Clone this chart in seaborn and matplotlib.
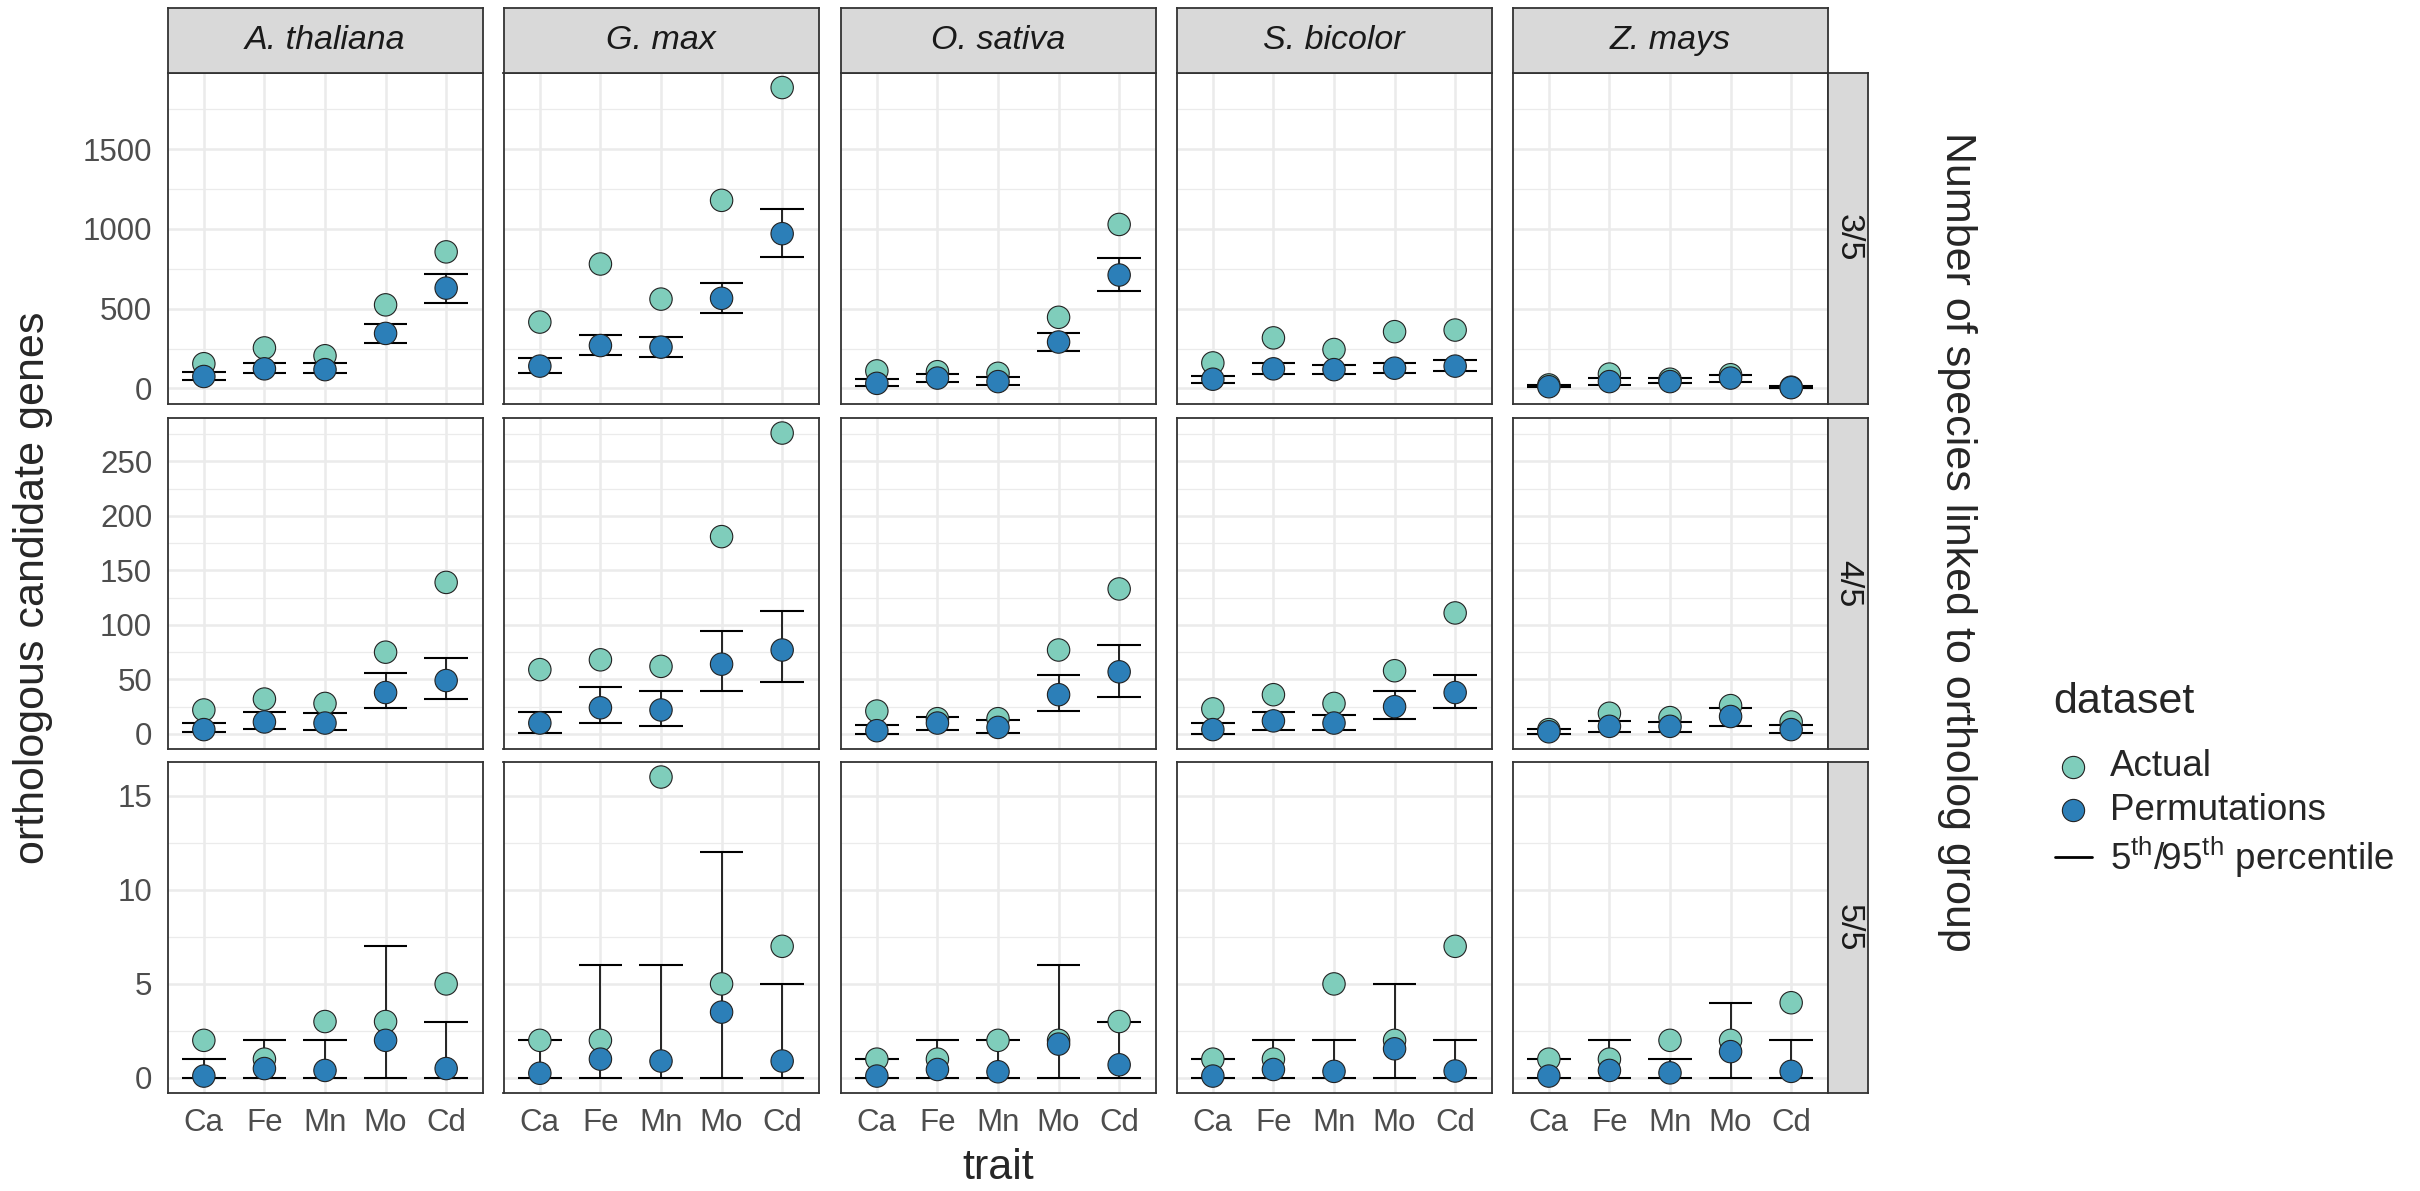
import numpy as np
import pandas as pd
import matplotlib.pyplot as plt
import seaborn as sns
from matplotlib.lines import Line2D

# ---- data ----
species = ["A. thaliana", "G. max", "O. sativa", "S. bicolor", "Z. mays"]
traits = ["Ca", "Fe", "Mn", "Mo", "Cd"]
levels = ["3/5", "4/5", "5/5"]

# rows = species, columns = traits
actual_3 = [[155, 254, 205, 524, 856],
            [416, 780, 560, 1179, 1886],
            [110, 105, 95, 446, 1028],
            [160, 317, 244, 356, 366],
            [22, 90, 58, 86, 8]]
perm_3 = [[75, 123, 118, 345, 629],
          [140, 269, 259, 565, 970],
          [32, 65, 43, 291, 711],
          [58, 123, 118, 127, 140],
          [11, 43, 43, 65, 5]]
lo_3 = [[54, 97, 97, 287, 537],
        [97, 209, 200, 474, 823],
        [15, 43, 22, 237, 610],
        [32, 93, 93, 97, 108],
        [8, 22, 37, 43, 4]]
hi_3 = [[101, 157, 157, 403, 720],
        [188, 338, 323, 664, 1125],
        [58, 93, 69, 349, 817],
        [75, 157, 144, 162, 179],
        [20, 65, 65, 86, 15]]

actual_4 = [[22, 32, 28, 75, 139],
            [59, 68, 62, 181, 276],
            [21, 14, 14, 77, 133],
            [23, 36, 28, 58, 111],
            [4, 19, 15, 26, 11]]
perm_4 = [[4, 11, 10, 38, 49],
          [10, 24, 22, 64, 77],
          [3, 10, 6, 36, 57],
          [4, 12, 10, 25, 38],
          [2, 7, 7, 16, 4]]
lo_4 = [[2, 5, 4, 24, 32],
        [1, 10, 7, 39, 48],
        [0, 4, 1, 21, 34],
        [0, 4, 4, 14, 24],
        [0, 2, 2, 7, 1]]
hi_4 = [[10, 20, 19, 56, 70],
        [20, 43, 39, 94, 113],
        [8, 16, 13, 54, 82],
        [10, 20, 17, 39, 54],
        [5, 12, 11, 24, 8]]

actual_5 = [[2, 1, 3, 3, 5],
            [2, 2, 16, 5, 7],
            [1, 1, 2, 2, 3],
            [1, 1, 5, 2, 7],
            [1, 1, 2, 2, 4]]
perm_5 = [[0.1, 0.5, 0.4, 2.0, 0.5],
          [0.25, 1.0, 0.9, 3.5, 0.9],
          [0.1, 0.45, 0.33, 1.8, 0.7],
          [0.1, 0.45, 0.35, 1.55, 0.37],
          [0.1, 0.4, 0.27, 1.4, 0.35]]
lo_5 = [[0, 0, 0, 0, 0]] * 5
hi_5 = [[1, 2, 2, 7, 3],
        [2, 6, 6, 12, 5],
        [1, 2, 2, 6, 3],
        [1, 2, 2, 5, 2],
        [1, 2, 1, 4, 2]]

actual = {"3/5": actual_3, "4/5": actual_4, "5/5": actual_5}
perm = {"3/5": perm_3, "4/5": perm_4, "5/5": perm_5}
lo = {"3/5": lo_3, "4/5": lo_4, "5/5": lo_5}
hi = {"3/5": hi_3, "4/5": hi_4, "5/5": hi_5}

y_major = {"3/5": [0, 500, 1000, 1500],
           "4/5": [0, 50, 100, 150, 200, 250],
           "5/5": [0, 5, 10, 15]}
y_minor = {"3/5": [250, 750, 1250, 1750],
           "4/5": [25, 75, 125, 175, 225, 275],
           "5/5": [2.5, 7.5, 12.5]}

# long tables
pts_rows, err_rows = [], []
for lev in levels:
    for i, sp in enumerate(species):
        for j, tr in enumerate(traits):
            pts_rows.append((lev, sp, tr, j, "Actual", actual[lev][i][j]))
for lev in levels:
    for i, sp in enumerate(species):
        for j, tr in enumerate(traits):
            pts_rows.append((lev, sp, tr, j, "Permutations", perm[lev][i][j]))
            err_rows.append((lev, sp, tr, j, lo[lev][i][j], hi[lev][i][j]))
points = pd.DataFrame(pts_rows, columns=["level", "species", "trait", "pos", "dataset", "value"])
errs = pd.DataFrame(err_rows, columns=["level", "species", "trait", "pos", "lo", "hi"])

palette = {"Actual": "#7fcdbb", "Permutations": "#2c7fb8"}

# ---- style ----
sns.set_theme(style="white")
plt.rcParams['font.family'] = ['Liberation Sans', 'DejaVu Sans']
plt.rcParams['mathtext.fontset'] = 'custom'
plt.rcParams['mathtext.rm'] = 'Liberation Sans'

W, H = 2420, 1191
fig = plt.figure(figsize=(W / 100, H / 100), dpi=100)
fig.patch.set_facecolor("white")


def box(x0, y0, x1, y1):
    # pixel box (top-left origin) -> figure fraction rect
    return [x0 / W, 1 - y1 / H, (x1 - x0) / W, (y1 - y0) / H]


col_left = [167.5, 503.5, 840.5, 1176.5, 1512.5]
col_w = 315
row_top = [72.5, 418, 762]
row_h = 331
strip_top = 8
strip_right = 1868

tick_fs = 22.5
strip_fs = 24.5
title_fs = 31
legend_fs = 26.5
border = "#333333"

for r, lev in enumerate(levels):
    vals = points[points.level == lev]["value"].tolist() + errs[errs.level == lev]["hi"].tolist()
    vmin, vmax = 0, max(vals)
    pad = (vmax - vmin) * 0.05
    for c, sp in enumerate(species):
        ax = fig.add_axes(box(col_left[c], row_top[r], col_left[c] + col_w, row_top[r] + row_h))
        e = errs[(errs.level == lev) & (errs.species == sp)]
        p = points[(points.level == lev) & (points.species == sp)]

        ax.vlines(e.pos, e.lo, e.hi, color="black", lw=1.2, zorder=2)
        ax.hlines(e.lo, e.pos - 0.36, e.pos + 0.36, color="black", lw=1.5, zorder=2)
        ax.hlines(e.hi, e.pos - 0.36, e.pos + 0.36, color="black", lw=1.5, zorder=2)
        sns.scatterplot(data=p, x="pos", y="value", hue="dataset", palette=palette,
                        hue_order=["Actual", "Permutations"], s=260,
                        edgecolor="#222222", linewidth=0.8, legend=False, ax=ax, zorder=3)

        ax.set_xlim(-0.6, 4.6)
        ax.set_ylim(vmin - pad, vmax + pad)
        ax.set_xticks(range(len(traits)))
        ax.set_xticklabels(traits)
        ax.set_yticks(y_major[lev])
        ax.set_yticks(y_minor[lev], minor=True)
        ax.grid(which="major", color="#ebebeb", lw=1.8)
        ax.grid(which="minor", axis="y", color="#ebebeb", lw=0.9)
        ax.set_axisbelow(True)
        ax.set_xlabel("")
        ax.set_ylabel("")
        for s in ax.spines.values():
            s.set_color(border)
            s.set_linewidth(1.3)
        ax.tick_params(which="minor", length=0)
        ax.tick_params(axis="both", which="major", length=8, width=1.6, color=border,
                       labelsize=tick_fs, labelcolor="#4d4d4d", pad=3)
        if c > 0:
            ax.tick_params(axis="y", left=False, labelleft=False)
        if r < 2:
            ax.tick_params(axis="x", bottom=False, labelbottom=False)

        # top strips
        if r == 0:
            sax = fig.add_axes(box(col_left[c], strip_top, col_left[c] + col_w, row_top[0]))
            sax.set_facecolor("#d9d9d9")
            sax.set_xticks([])
            sax.set_yticks([])
            for s in sax.spines.values():
                s.set_color(border)
                s.set_linewidth(1.3)
            sax.text(0.5, 0.5, sp, ha="center", va="center", fontsize=strip_fs,
                     style="italic", color="#1a1a1a", transform=sax.transAxes)

    # right strips
    rax = fig.add_axes(box(col_left[4] + col_w, row_top[r], strip_right, row_top[r] + row_h))
    rax.set_facecolor("#d9d9d9")
    rax.set_xticks([])
    rax.set_yticks([])
    for s in rax.spines.values():
        s.set_color(border)
        s.set_linewidth(1.3)
    rax.text(0.5, 0.5, lev, ha="center", va="center", fontsize=strip_fs,
             rotation=-90, color="#1a1a1a", transform=rax.transAxes)

# axis titles
fig.text(998 / W, 1 - 1179 / H, "trait", ha="center", va="baseline", fontsize=title_fs)
fig.text(33 / W, 1 - 588 / H, "orthologous candidate genes", ha="center", va="center",
         rotation=90, fontsize=title_fs)
fig.text(1957 / W, 1 - 542 / H, "Number of species linked to ortholog group", ha="center",
         va="center", rotation=-90, fontsize=title_fs)

# legend
fig.text(2053 / W, 1 - 702 / H, "dataset", ha="left", va="center", fontsize=title_fs)
for lab, yy in [("Actual", 767), ("Permutations", 810)]:
    fig.add_artist(Line2D([2073 / W], [1 - yy / H], marker="o", markersize=16,
                          markerfacecolor=palette[lab], markeredgecolor="#222222",
                          markeredgewidth=0.8, linestyle="none", transform=fig.transFigure))
    fig.text(2110 / W, 1 - yy / H, lab, ha="left", va="center", fontsize=legend_fs)
fig.add_artist(Line2D([2055 / W, 2092 / W], [1 - 857 / H, 1 - 857 / H], color="black",
                      lw=2, transform=fig.transFigure))
fig.text(2110 / W, 1 - 857 / H, r"$\mathregular{5^{th}/95^{th}}$ percentile", ha="left",
         va="center", fontsize=legend_fs)

fig.savefig("out.png", dpi=100, facecolor="white")
